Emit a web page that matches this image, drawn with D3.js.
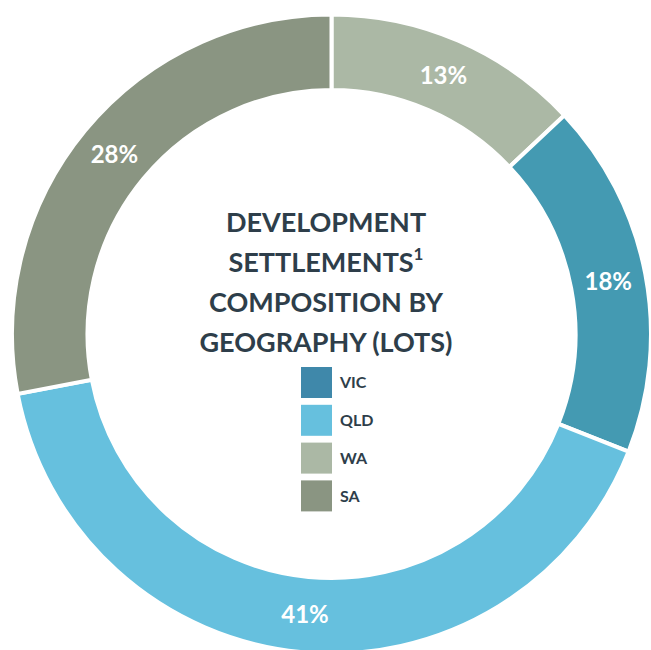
<!DOCTYPE html>
<html><head><meta charset="utf-8">
<script src="https://cdn.jsdelivr.net/npm/d3@7"></script>
<style>body{margin:0;background:#fff;}svg{display:block;}</style>
</head><body>
<svg id="chart" width="651" height="650"></svg>
<script>
const categories = ["WA", "VIC", "QLD", "SA"];
const values = [13, 18, 41, 28];
const colors = ["#abb8a5", "#449ab2", "#66c0de", "#8a9582"];
const legendOrder = ["VIC", "QLD", "WA", "SA"];
const legendColors = {"VIC": "#3f88aa", "QLD": "#66c0de", "WA": "#abb8a5", "SA": "#8a9582"};
const titleLines = ["DEVELOPMENT", "SETTLEMENTS", "COMPOSITION BY", "GEOGRAPHY (LOTS)"];

const svg = d3.select("#chart");
const cx = 331.5, cy = 334, rOuter = 319.5, rInner = 244;
const g = svg.append("g").attr("transform", `translate(${cx},${cy})`);

const pie = d3.pie().value(d => d.v).sort(null);
const arcs = pie(categories.map((c, i) => ({c, v: values[i], col: colors[i]})));
const arc = d3.arc().innerRadius(rInner).outerRadius(rOuter);

g.selectAll("path.slice").data(arcs).join("path")
  .attr("class", "slice")
  .attr("d", arc)
  .attr("fill", d => d.data.col)
  .attr("stroke", "#fff")
  .attr("stroke-width", 4)
  .attr("stroke-linejoin", "miter");

g.selectAll("text.lbl").data(arcs).join("text")
  .attr("class", "lbl")
  .attr("transform", d => `translate(${arc.centroid(d)})`)
  .attr("text-anchor", "middle")
  .attr("dy", "0.36em")
  .attr("fill", "#fff")
  .attr("font-family", "Lato, 'Open Sans', sans-serif")
  .attr("font-weight", 700)
  .attr("font-size", 24)
  .text(d => d.data.v + "%");

const title = svg.append("g").attr("font-family", "Lato, 'Open Sans', sans-serif")
  .attr("font-weight", 700).attr("font-size", 27).attr("fill", "#2e3e4a");
titleLines.forEach((t, i) => {
  const tx = title.append("text").attr("x", 326).attr("y", 232 + i * 40)
    .attr("text-anchor", "middle").text(t);
  if (i === 1) {
    tx.append("tspan").attr("font-size", 17).attr("dy", -12).text("1");
  }
});

const leg = svg.append("g").attr("font-family", "Lato, 'Open Sans', sans-serif")
  .attr("font-weight", 700).attr("font-size", 16).attr("fill", "#2e3e4a");
legendOrder.forEach((c, i) => {
  const y = 367 + i * 37.8;
  leg.append("rect").attr("x", 301).attr("y", y).attr("width", 31).attr("height", 31)
    .attr("fill", legendColors[c]);
  leg.append("text").attr("x", 340).attr("y", y + 15.5).attr("dy", "0.36em").text(c);
});
</script>
</body></html>
